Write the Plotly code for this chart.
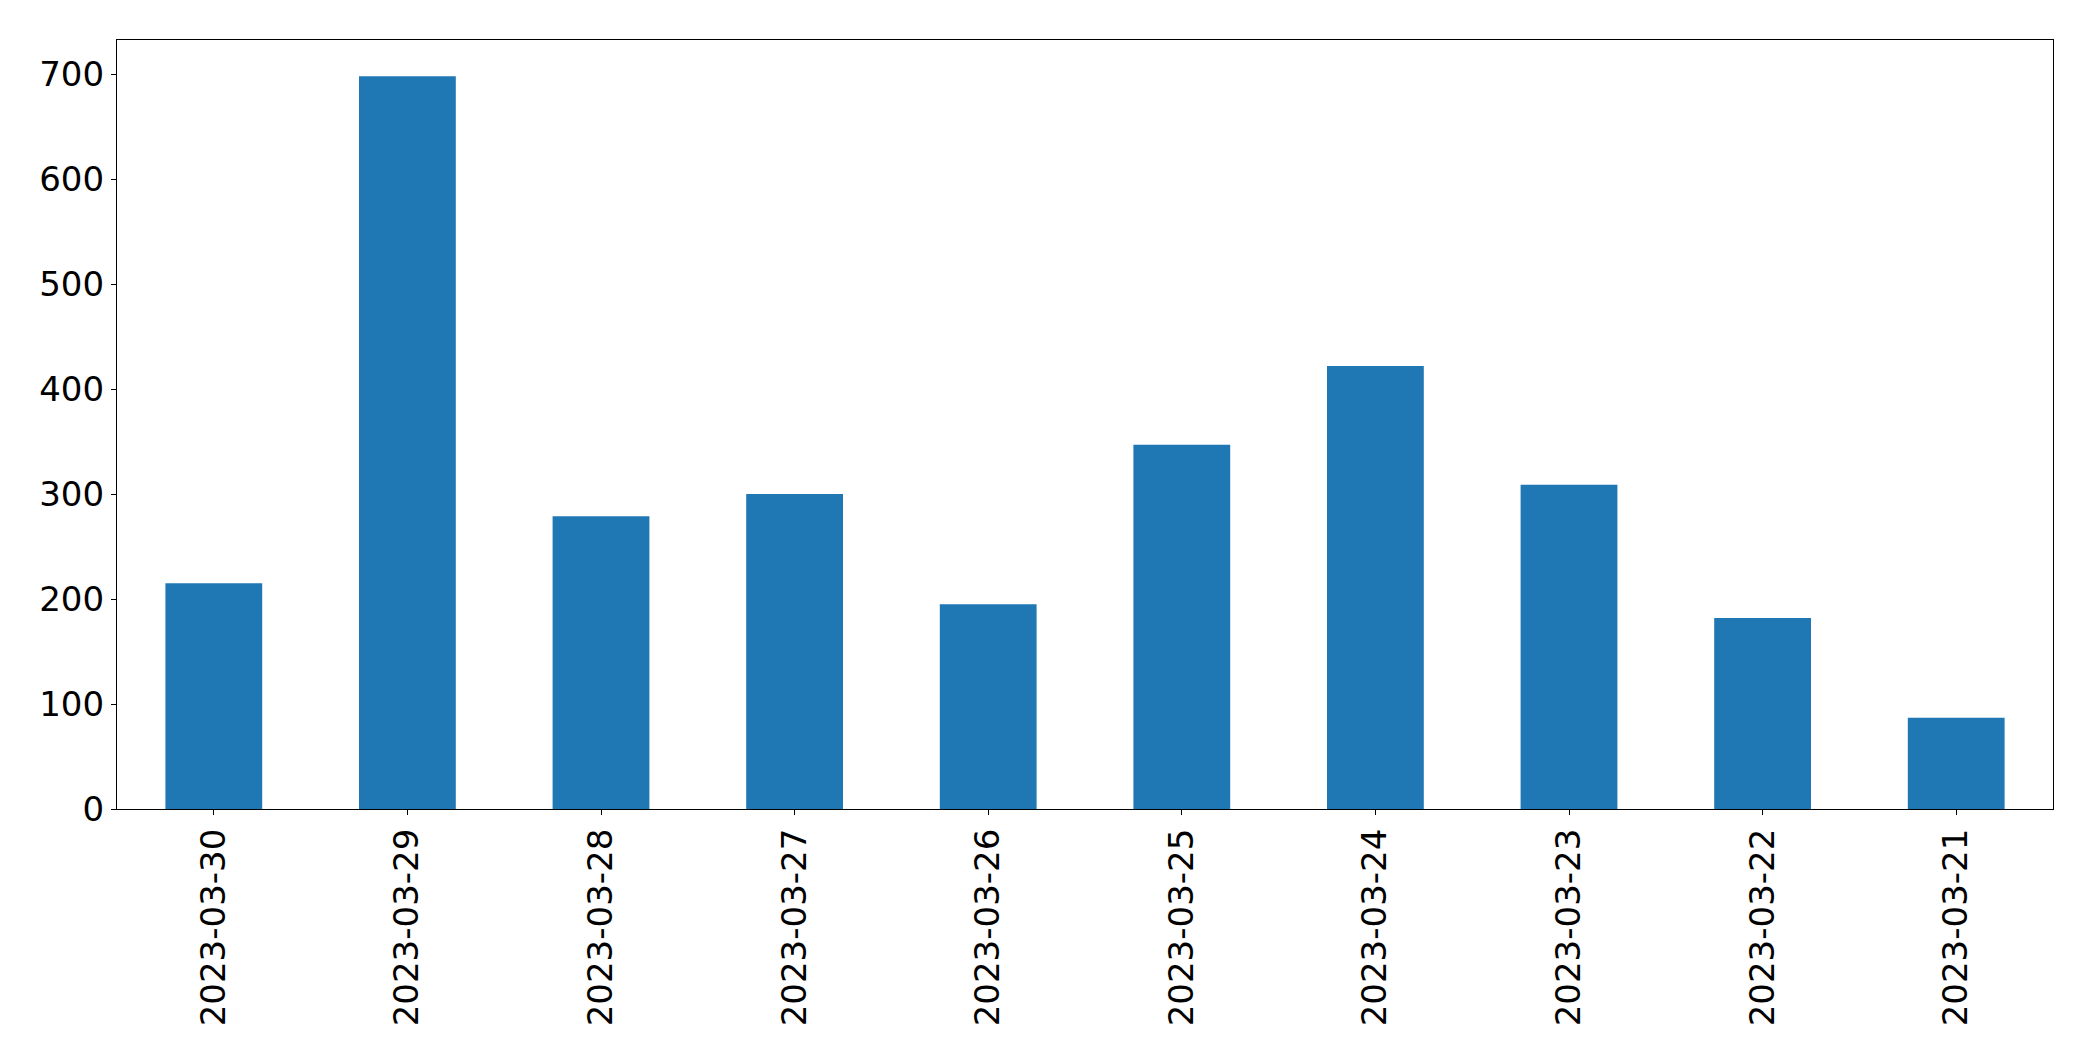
import plotly.graph_objects as go

dates = ["2023-03-30", "2023-03-29", "2023-03-28", "2023-03-27", "2023-03-26",
         "2023-03-25", "2023-03-24", "2023-03-23", "2023-03-22", "2023-03-21"]
counts = [215, 698, 279, 300, 195, 347, 422, 309, 182, 87]
y_ticks = [0, 100, 200, 300, 400, 500, 600, 700]

fig = go.Figure(go.Bar(x=dates, y=counts, marker=dict(color="#1f77b4", line=dict(width=0)), width=0.5))

fig.update_layout(
    width=2093, height=1061,
    margin=dict(l=116.5, r=39.5, t=39.5, b=252, autoexpand=False),
    paper_bgcolor="white", plot_bgcolor="white",
    font=dict(family="DejaVu Sans", size=34, color="black"),
    showlegend=False,
    bargap=0.5,
)
fig.update_xaxes(
    type="category", range=[-0.5, 9.5],
    showline=True, linecolor="black", linewidth=1.2, mirror=True,
    ticks="outside", ticklen=5, tickwidth=1.1, tickcolor="black",
    tickangle=-90, showgrid=False, zeroline=False,
    tickfont=dict(size=34, family="DejaVu Sans", color="black"),
    ticklabelstandoff=0,
)
fig.update_yaxes(
    range=[0, 732.6], tickvals=y_ticks, ticktext=[str(v) for v in y_ticks],
    showline=True, linecolor="black", linewidth=1.2, mirror=True,
    ticks="outside", ticklen=5, tickwidth=1.1, tickcolor="black",
    showgrid=False, zeroline=False,
    tickfont=dict(size=34, family="DejaVu Sans", color="black"),
)

fig.write_html("out.html")
